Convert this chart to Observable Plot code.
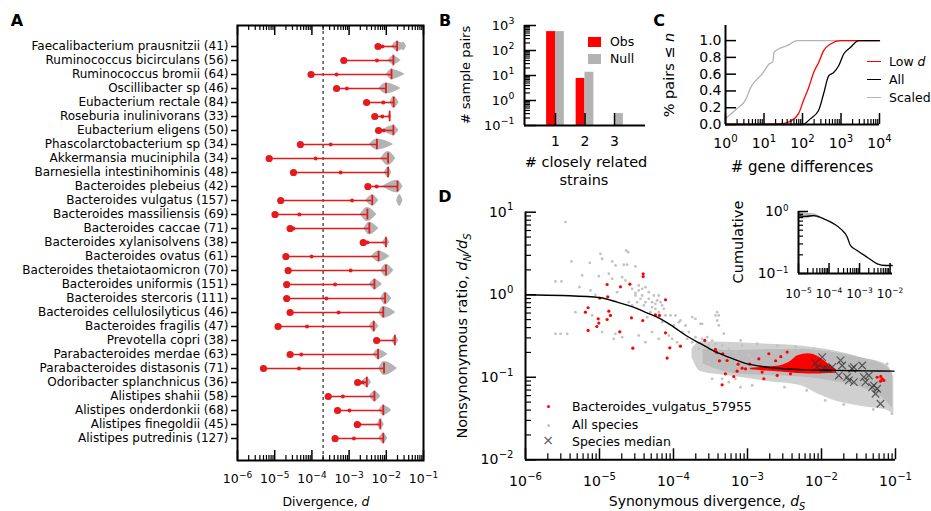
<!DOCTYPE html>
<html><head><meta charset="utf-8">
<script src="https://cdn.jsdelivr.net/npm/d3@7"></script>
<script src="https://cdn.jsdelivr.net/npm/@observablehq/plot@0.6"></script>
<style>
body{margin:0;background:#fff;}
#root{position:relative;width:931px;height:511px;font-family:"DejaVu Sans",sans-serif;color:#000;overflow:hidden;background:#fff}
.t{position:absolute;white-space:nowrap;font-size:12.5px;line-height:1.1}
.sw{position:absolute}
</style></head><body><div id="root"></div>
<script>
// ---------------- Panel A data ----------------
const species = ["Faecalibacterium prausnitzii (41)","Ruminococcus bicirculans (56)","Ruminococcus bromii (64)","Oscillibacter sp (46)","Eubacterium rectale (84)","Roseburia inulinivorans (33)","Eubacterium eligens (50)","Phascolarctobacterium sp (34)","Akkermansia muciniphila (34)","Barnesiella intestinihominis (48)","Bacteroides plebeius (42)","Bacteroides vulgatus (157)","Bacteroides massiliensis (69)","Bacteroides caccae (71)","Bacteroides xylanisolvens (38)","Bacteroides ovatus (61)","Bacteroides thetaiotaomicron (70)","Bacteroides uniformis (151)","Bacteroides stercoris (111)","Bacteroides cellulosilyticus (46)","Bacteroides fragilis (47)","Prevotella copri (38)","Parabacteroides merdae (63)","Parabacteroides distasonis (71)","Odoribacter splanchnicus (36)","Alistipes shahii (58)","Alistipes onderdonkii (68)","Alistipes finegoldii (45)","Alistipes putredinis (127)"];
const minDivergence = [6.0e-3,7.2e-4,9.5e-5,4.6e-4,2.95e-3,4.9e-3,6.2e-3,4.9e-5,7.1e-6,3.2e-5,3.2e-3,1.45e-5,1.02e-5,2.6e-5,2.4e-3,2.0e-5,2.3e-5,2.1e-5,2.1e-5,2.6e-5,1.23e-5,5.5e-3,2.6e-5,5.0e-6,1.7e-3,2.75e-4,4.9e-4,1.66e-3,4.2e-4];
const lowDivergence = [7.9e-3,5.6e-3,4.6e-4,8.7e-4,8.3e-3,7.8e-3,8.5e-3,3.2e-4,1.26e-4,5.9e-4,5.5e-3,1.2e-3,4.6e-5,3.2e-5,3.1e-3,9.8e-5,1.1e-3,4.2e-4,2.45e-4,5.2e-4,7.4e-5,6.0e-3,5.2e-5,4.5e-5,2.3e-3,6.8e-4,1.02e-3,1.9e-3,1.35e-3];
const typicalDivergence = [1.95e-2,1.55e-2,1.38e-2,9.8e-3,1.58e-2,1.23e-2,1.55e-2,5.6e-3,1.12e-2,1.12e-2,2.0e-2,4.2e-3,3.1e-3,3.5e-3,9.8e-3,6.2e-3,9.8e-3,4.8e-3,9.3e-3,8.3e-3,4.6e-3,1.7e-2,6.0e-3,8.7e-3,3.0e-3,4.8e-3,8.3e-3,6.9e-3,8.3e-3];
const violinLow = [1.4e-2,1.1e-2,1.0e-2,6.3e-3,1.26e-2,1.1e-2,7.9e-3,3.5e-3,7.1e-3,8.9e-3,7.9e-3,2.8e-3,2.0e-3,2.5e-3,7.9e-3,4.0e-3,7.1e-3,3.5e-3,7.1e-3,6.3e-3,3.5e-3,1.4e-2,4.5e-3,6.3e-3,2.2e-3,3.5e-3,6.3e-3,5.6e-3,6.3e-3];
const violinHigh = [3.5e-2,2.5e-2,3.2e-2,2.5e-2,2.2e-2,1.4e-2,2.2e-2,1.6e-2,1.8e-2,1.4e-2,2.8e-2,6.3e-3,5.6e-3,6.3e-3,1.26e-2,1.26e-2,1.6e-2,7.9e-3,1.4e-2,1.8e-2,6.3e-3,2.2e-2,1.1e-2,2.0e-2,4.0e-3,7.1e-3,1.4e-2,8.9e-3,1.1e-2];
const violinWidth = [0.35,0.3,0.35,0.4,0.42,0.2,0.35,0.4,0.5,0.38,0.45,0.4,0.5,0.45,0.3,0.4,0.45,0.35,0.45,0.42,0.35,0.3,0.35,0.5,0.35,0.35,0.35,0.3,0.35];
const extraViolins = [{row:0, lo:2.4e-2, peak:2.9e-2, hi:3.5e-2, w:0.3},{row:11, lo:1.9e-2, peak:2.3e-2, hi:2.8e-2, w:0.42}];
const dThreshold = 2.0e-4;
const aTicks = [1e-6,1e-5,1e-4,1e-3,1e-2,1e-1];

// ---------------- Panel B data ----------------
const strainCounts = [1,2,3];
const obsPairs = [570, 7.6, 0];
const nullPairs = [570, 13.5, 0.3];
const bTicks = [0.1,1,10,100,1000];

// ---------------- Panel C data ----------------
const geneDiffScaled = [[1,0.07],[2,0.19],[3.3,0.29],[4.5,0.44],[6,0.52],[8.9,0.60],[13.5,0.72],[17,0.75],[18.2,0.86],[24,0.90],[40,0.94],[72,1.0],[1e4,1.0]];
const geneDiffLowD = [[1,0],[10,0.004],[30,0.01],[49,0.04],[79,0.13],[107,0.29],[145,0.44],[195,0.62],[263,0.74],[355,0.88],[537,0.96],[977,1.0],[1e4,1.0]];
const geneDiffAll = [[1,0],[98,0],[162,0.07],[263,0.17],[355,0.37],[479,0.58],[646,0.62],[871,0.70],[1175,0.84],[1778,0.92],[2884,1.0],[1e4,1.0]];
const cTicksX = [1,10,100,1000,10000];
const cTicksY = [0,0.2,0.4,0.6,0.8,1.0];

// ---------------- Panel D data (log10 dS, log10 dN/dS) ----------------
const allSpeciesLog = [[-5.46,0.88],[-5.595,0.161],[-5.514,0.161],[-5.379,0.403],[-5.131,0.387],[-4.987,0.496],[-4.964,0.436],[-4.829,0.403],[-4.784,0.355],[-4.64,0.537],[-4.613,0.516],[-4.672,0.363],[-4.627,0.363],[-4.514,0.343],[-5.235,0.234],[-5.009,0.225],[-4.874,0.254],[-4.829,0.193],[-4.694,0.213],[-4.649,0.173],[-5.271,0.092],[-5.122,0.052],[-5.054,-0.001],[-4.762,0.031],[-4.559,0.072],[-4.514,0.023],[-4.469,0.112],[-4.424,-0.009],[-4.604,-0.09],[-4.559,-0.13],[-4.446,-0.049],[-4.401,-0.13],[-4.334,0.031],[-4.289,-0.09],[-4.199,-0.009],[-4.154,-0.13],[-4.244,-0.171],[-4.311,-0.211],[-4.356,-0.272],[-4.154,-0.332],[-4.041,-0.251],[-3.996,-0.373],[-4.063,-0.494],[-4.289,-0.453],[-4.379,-0.575],[-4.199,-0.534],[-4.469,-0.494],[-4.694,-0.514],[-4.784,-0.474],[-4.807,-0.534],[-4.964,-0.453],[-5.325,-0.211],[-5.1,-0.251],[-5.527,-0.474],[-5.437,-0.474],[-5.595,-0.474],[-3.928,-0.332],[-3.883,-0.453],[-3.816,-0.534],[-3.748,-0.575],[-3.703,-0.292],[-3.613,-0.352],[-3.41,-0.211],[-3.388,-0.251],[-3.658,-0.655],[-3.523,-0.615],[-3.478,-0.696],[-3.343,-0.615],[-3.253,-0.655],[-3.163,-0.696],[-3.072,-0.615],[-2.982,-0.736],[-3.523,-0.817],[-3.433,-0.857],[-3.253,-0.898],[-3.118,-0.777],[-3.027,-0.817],[-2.937,-0.777],[-3.478,-1.019],[-3.343,-1.019],[-3.253,-1.059],[-3.095,-1.12],[-3.163,-1.019],[-2.937,-1.1],[-4.469,0.052],[-4.424,0.072],[-4.379,0.092],[-4.334,-0.049],[-4.266,-0.009],[-4.221,-0.07],[-4.176,-0.09],[-4.131,-0.171],[-4.514,-0.009],[-4.491,-0.09],[-4.244,-0.11],[-4.199,-0.211],[-4.109,-0.251],[-4.289,-0.15],[-4.379,-0.09],[-3.973,-0.251],[-3.906,-0.312],[-3.838,-0.373],[-3.793,-0.453],[-4.018,-0.534],[-3.951,-0.575],[-3.703,-0.514],[-3.613,-0.534],[-3.545,-0.514],[-3.478,-0.555],[-3.433,-0.595],[-3.432,-0.251],[-3.41,-0.312],[-3.387,-0.372],[-1.112,-0.837],[-3.747,-0.271],[-3.635,-0.352],[-3.32,-0.473],[-3.094,-0.554],[-2.869,-0.594],[-2.6,-0.62],[-2.35,-0.63],[-2.1,-0.66],[-1.9,-0.69],[-1.7,-0.73],[-1.35,-0.8],[-2.5,-1.12],[-2.2,-1.16],[-1.95,-1.28],[-1.7,-1.33],[-1.3,-1.39],[-1.05,-1.44]];
// envelope of the all-species cloud: [log10 dS, top, bottom] (outer, lighter) and dense core
const allSpeciesBandLog = [[-3.75,-0.66,-0.76],[-3.635,-0.57,-0.93],[-3.185,-0.58,-0.99],[-2.734,-0.6,-1.05],[-2.284,-0.62,-1.10],[-2.059,-0.645,-1.2],[-1.833,-0.68,-1.28],[-1.473,-0.76,-1.35],[-1.113,-0.85,-1.40],[-1.023,-1.0,-1.45]];
const allSpeciesCoreLog = [[-3.6,-0.66,-0.84],[-3.185,-0.675,-0.955],[-2.734,-0.665,-0.98],[-2.284,-0.66,-0.998],[-1.833,-0.70,-1.05],[-1.473,-0.765,-1.12],[-1.113,-0.88,-1.30],[-1.04,-0.96,-1.38]];
const vulgatusLog = [[-4.41,0.254],[-4.41,0.221],[-4.897,0.124],[-4.717,0.096],[-4.59,0.128],[-4.996,-0.041],[-4.888,-0.025],[-5.154,-0.158],[-5.19,-0.211],[-4.874,-0.199],[-4.852,-0.251],[-4.897,-0.30],[-5.018,-0.292],[-5.009,-0.344],[-5.036,-0.385],[-5.154,-0.433],[-4.726,-0.449],[-4.568,-0.28],[-4.415,-0.312],[-4.55,-0.647],[-4.108,-0.061],[-4.19,-0.251],[-4.244,-0.243],[-4.108,-0.461],[-4.05,-0.643],[-4.086,-0.768],[-3.906,-0.623],[-3.577,-0.554],[-3.433,-0.663],[-3.419,-0.696],[-3.379,-0.801],[-3.275,-0.797],[-3.334,-0.716],[-3.298,-0.958],[-3.343,-1.092],[-3.185,-0.991],[-3.127,-0.841],[-3.14,-0.926],[-3.073,-0.89],[-3.027,-0.898],[-2.969,-0.841],[-2.802,-0.937],[-2.419,-0.958],[-2.847,-0.776],[-2.712,-0.715],[-2.464,-0.695],[-2.779,-1.018],[-2.599,-0.978],[-2.62,-0.8],[-2.55,-0.75],[-1.248,-1.0],[-1.18,-1.018],[-1.203,-1.047],[-1.158,-1.038],[-1.2,-0.99]];
// dense core of the B. vulgatus points: [log10 dS, top, bottom]
const vulgatusBandLog = [[-2.96,-0.89,-0.91],[-2.734,-0.875,-0.925],[-2.554,-0.86,-0.935],[-2.42,-0.81,-0.945],[-2.32,-0.74,-0.955],[-2.18,-0.715,-0.96],[-2.04,-0.75,-0.96],[-1.92,-0.83,-0.955],[-1.80,-0.91,-0.95]];
const speciesMedianLog = [[-2.081,-0.828],[-1.991,-0.756],[-2.059,-0.877],[-1.968,-0.897],[-1.923,-0.897],[-1.856,-0.877],[-1.766,-0.978],[-1.743,-0.796],[-1.721,-0.857],[-1.653,-0.998],[-1.586,-0.897],[-1.563,-0.877],[-1.63,-1.038],[-1.563,-1.059],[-1.428,-0.998],[-1.405,-1.059],[-1.45,-0.857],[-1.315,-1.119],[-1.293,-1.099],[-1.27,-1.2],[-1.203,-1.321],[-1.36,-0.978],[-1.248,-1.139]];
const fitCurveLog = [[-6,0],[-5.5,-0.01],[-4.99,-0.036],[-4.76,-0.09],[-4.54,-0.15],[-4.36,-0.22],[-4.18,-0.29],[-4.0,-0.39],[-3.82,-0.50],[-3.64,-0.59],[-3.46,-0.68],[-3.3,-0.74],[-3.05,-0.825],[-2.8,-0.87],[-2.51,-0.897],[-2.2,-0.91],[-1.83,-0.917],[-1.4,-0.922],[-1.02,-0.926]];
const dTicksX = [1e-6,1e-5,1e-4,1e-3,1e-2,1e-1];
const dTicksY = [0.01,0.1,1,10];
// inset: cumulative fraction
const cumulativeLog = [[-4.95,-0.07],[-4.77,-0.08],[-4.5,-0.065],[-4.17,-0.118],[-3.84,-0.199],[-3.62,-0.28],[-3.4,-0.414],[-3.3,-0.548],[-3.08,-0.629],[-2.75,-0.737],[-2.42,-0.844],[-2.15,-0.871],[-1.93,-0.871]];
const cumulativeBandLog = [[-5,-0.01,-0.12],[-4.77,-0.03,-0.12],[-4.5,-0.035,-0.09],[-4.3,-0.08,-0.12]];
const insetTicksX = [1e-5,1e-4,1e-3,1e-2];
const insetTicksY = [0.1,1];

// ---------------- helpers ----------------
const RED_A = "#e41a1c", RED = "#ff0000", GRAY = "#b3b3b3";
const SUP = {"-":"⁻","0":"⁰","1":"¹","2":"²","3":"³","4":"⁴","5":"⁵","6":"⁶","7":"⁷","8":"⁸","9":"⁹"};
const SUPREV = Object.fromEntries(Object.entries(SUP).map(([a, b]) => [b, a]));
const pow10 = v => "10" + String(Math.round(Math.log10(v))).split("").map(c => SUP[c]).join("");
const minorsOf = (lo, hi) => { const o = []; for (let e = lo; e < hi; e++) for (let m = 2; m < 10; m++) o.push(m * 10 ** e); return o; };
const P = a => a.map(([x, y]) => [10 ** x, 10 ** y]);
const P3 = a => a.map(([x, u, v]) => [10 ** x, 10 ** u, 10 ** v]);
const tB = (v, len, fh, sw = 1.2) => Plot.tickX(v, {x: d => d, insetTop: fh - len, stroke: "#000", strokeWidth: sw});
const tT = (v, len, fh, sw = 1.2) => Plot.tickX(v, {x: d => d, insetBottom: fh - len, stroke: "#000", strokeWidth: sw});
const tL = (v, len, fw, sw = 1.2) => Plot.tickY(v, {y: d => d, insetRight: fw - len, stroke: "#000", strokeWidth: sw});
const baseStyle = {fontFamily: "DejaVu Sans", fontSize: "13px", overflow: "visible", background: "transparent"};
const NS = "http://www.w3.org/2000/svg";
function fixSup(svg, supSize = "0.72em") {
  svg.querySelectorAll("text").forEach(t => {
    const m = t.textContent.match(/^10([⁻⁰¹²³⁴⁵⁶⁷⁸⁹]+)$/);
    if (!m) return;
    const exp = m[1].split("").map(c => SUPREV[c]).join("").replace("-", "−");
    t.textContent = "";
    const a = document.createElementNS(NS, "tspan"); a.textContent = "10";
    const b = document.createElementNS(NS, "tspan"); b.textContent = exp;
    b.setAttribute("font-size", supSize); b.setAttribute("dy", "-0.62em"); b.setAttribute("dx", "0.03em");
    t.append(a, b);
  });
  return svg;
}

const root = document.getElementById("root");
function place(svg, left, top, supSize) { fixSup(svg, supSize); svg.style.position = "absolute"; svg.style.left = left + "px"; svg.style.top = top + "px"; root.appendChild(svg); }
function T(html, x, y, {anchor = "middle", rotate = 0, size = 12.5, weight = "normal", color = "#000"} = {}) {
  const d = document.createElement("div");
  d.className = "t"; d.innerHTML = html;
  d.style.left = x + "px"; d.style.top = y + "px"; d.style.fontSize = size + "px"; d.style.fontWeight = weight; d.style.color = color;
  const tx = anchor === "start" ? "0" : anchor === "end" ? "-100%" : "-50%";
  d.style.transform = `translate(${tx},-50%)` + (rotate ? ` rotate(${rotate}deg)` : "");
  root.appendChild(d);
}
function S(x, y, w, h, css) { const d = document.createElement("div"); d.className = "sw"; Object.assign(d.style, {left: x + "px", top: y + "px", width: w + "px", height: h + "px"}, css); root.appendChild(d); }
const SUBS = "style='font-size:0.7em'";

// ---------------- Panel A ----------------
const rows = species.map((s, i) => ({i, s, lo: minDivergence[i], mid: lowDivergence[i], tick: typicalDivergence[i]}));
const violinPts = [];
species.forEach((s, i) => {
  const w = violinWidth[i];
  violinPts.push({k: i, x: violinLow[i], y1: i, y2: i});
  violinPts.push({k: i, x: typicalDivergence[i], y1: i - w, y2: i + w});
  violinPts.push({k: i, x: violinHigh[i], y1: i, y2: i});
});
extraViolins.forEach((v, j) => {
  violinPts.push({k: "e" + j, x: v.lo, y1: v.row, y2: v.row});
  violinPts.push({k: "e" + j, x: v.peak, y1: v.row - v.w, y2: v.row + v.w});
  violinPts.push({k: "e" + j, x: v.hi, y1: v.row, y2: v.row});
});
{
  const fh = 435;
  const svg = Plot.plot({
    width: 440, height: 511, marginLeft: 237, marginRight: 17, marginTop: 25, marginBottom: 51,
    style: baseStyle,
    x: {type: "log", domain: [1e-6, 1e-1], label: null},
    y: {domain: [-1.5, 29.571], range: [25, 460], label: null},
    marks: [
      Plot.areaY(violinPts, {x: "x", y1: "y1", y2: "y2", z: "k", fill: GRAY, curve: "monotone-x"}),
      Plot.ruleX([dThreshold], {stroke: "#000", strokeWidth: 1, strokeDasharray: "3,3"}),
      Plot.ruleY(rows, {y: "i", x1: "lo", x2: "tick", stroke: RED_A, strokeWidth: 1.6}),
      Plot.ruleX(rows, {x: "tick", y1: d => d.i - 0.38, y2: d => d.i + 0.38, stroke: RED_A, strokeWidth: 1.8}),
      Plot.dot(rows, {x: "mid", y: "i", r: 2, fill: RED_A}),
      Plot.dot(rows, {x: "lo", y: "i", r: 3.6, fill: RED_A}),
      Plot.frame({stroke: "#000", strokeWidth: 2}),
      tB(aTicks, 10, fh, 1.5), tB(minorsOf(-6, -1), 5, fh), tT(aTicks, 10, fh, 1.5), tT(minorsOf(-6, -1), 5, fh),
      Plot.axisX({ticks: aTicks, tickFormat: pow10, tickSize: 0, tickPadding: 14, anchor: "bottom", fontSize: 12.5}),
      Plot.axisY({ticks: d3.range(species.length), tickFormat: i => species[i], tickSize: 6, tickPadding: 3, strokeWidth: 1.5, fontSize: 12, anchor: "left"})
    ]
  });
  place(svg, 0, 0);
}
T("A", 17, 21, {size: 16, weight: "bold"});
T("Divergence, <i>d</i>", 326, 502);

// ---------------- Panel B ----------------
{
  const bars = strainCounts.flatMap((c, i) => [
    {x1: c - 0.3, x2: c, v: obsPairs[i], f: RED},
    {x1: c, x2: c + 0.3, v: nullPairs[i], f: GRAY}
  ]).filter(d => d.v > 0);
  const fh = 100, fw = 121;
  const svg = Plot.plot({
    width: 220, height: 200, marginLeft: 84, marginRight: 15, marginTop: 25, marginBottom: 75,
    style: baseStyle,
    x: {domain: [-0.05, 4.05], label: null},
    y: {type: "log", domain: [0.1, 1000], label: null},
    marks: [
      Plot.rect(bars, {x1: "x1", x2: "x2", y1: 0.1, y2: "v", fill: "f"}),
      tB(strainCounts, 12, fh, 1.5),
      tL(bTicks, 12, fw, 1.5), tL(minorsOf(-1, 3), 6, fw),
      Plot.ruleX([-0.05], {stroke: "#000", strokeWidth: 2}),
      Plot.ruleY([0.1], {stroke: "#000", strokeWidth: 2}),
      Plot.axisX({ticks: strainCounts, tickFormat: d => String(d), tickSize: 0, tickPadding: 11, anchor: "bottom", fontSize: 14}),
      Plot.axisY({ticks: bTicks, tickFormat: pow10, tickSize: 0, tickPadding: 10, anchor: "left"})
    ]
  });
  place(svg, 440, 0);
}
T("B", 445, 21, {size: 16, weight: "bold"});
T("# sample pairs", 466, 75, {rotate: -90, size: 13});
T("# closely related", 586, 163, {size: 14.5});
T("strains", 584, 181, {size: 14.5});
S(588, 37, 13, 10, {background: RED});
S(588, 54, 13, 10, {background: GRAY});
T("Obs", 610, 42, {anchor: "start"});
T("Null", 610, 59, {anchor: "start"});

// ---------------- Panel C ----------------
{
  const fh = 99, fw = 154;
  const lines = [[geneDiffScaled, GRAY], [geneDiffLowD, RED], [geneDiffAll, "#000"]];
  const svg = Plot.plot({
    width: 240, height: 200, marginLeft: 75, marginRight: 11, marginTop: 25, marginBottom: 76,
    style: baseStyle,
    x: {type: "log", domain: [1, 1e4], label: null},
    y: {domain: [0, 1.18], label: null},
    marks: [
      ...lines.map(([d, c]) => Plot.line(d, {x: d => d[0], y: d => d[1], stroke: c, strokeWidth: 1.3, curve: "monotone-x"})),
      tB(cTicksX, 11, fh, 1.5), tB(minorsOf(0, 4), 5, fh),
      tL(cTicksY, 11, fw, 1.5),
      Plot.ruleX([1], {stroke: "#000", strokeWidth: 2}),
      Plot.ruleY([0], {stroke: "#000", strokeWidth: 2}),
      Plot.axisX({ticks: cTicksX, tickFormat: pow10, tickSize: 0, tickPadding: 14, anchor: "bottom", fontSize: 14}),
      Plot.axisY({ticks: cTicksY, tickFormat: d3.format(".1f"), tickSize: 0, tickPadding: 4, anchor: "left", fontSize: 14})
    ]
  });
  place(svg, 650, 0);
}
T("C", 659, 21, {size: 16, weight: "bold"});
T("% pairs ≤ <i>n</i>", 670, 75, {rotate: -90, size: 14.5});
T("# gene differences", 802, 167, {size: 15});
S(867, 61, 14, 0, {borderTop: "1.5px solid " + RED});
S(867, 79, 14, 0, {borderTop: "1.5px solid #000"});
S(867, 97, 14, 0, {borderTop: "1.5px solid " + GRAY});
T("Low <i>d</i>", 889, 62, {anchor: "start"});
T("All", 889, 80, {anchor: "start"});
T("Scaled", 889, 98, {anchor: "start"});

// ---------------- Panel D ----------------
{
  const fh = 247.6, fw = 370;
  const svg = Plot.plot({
    width: 491, height: 321, marginLeft: 85, marginRight: 36, marginTop: 21.7, marginBottom: 51.7,
    style: baseStyle,
    x: {type: "log", domain: [1e-6, 1e-1], label: null},
    y: {type: "log", domain: [0.01, 10], label: null},
    marks: [
      Plot.areaY(P3(allSpeciesBandLog), {x: d => d[0], y1: d => d[1], y2: d => d[2], fill: "#d0d0d0", curve: "monotone-x"}),
      Plot.areaY(P3(allSpeciesCoreLog), {x: d => d[0], y1: d => d[1], y2: d => d[2], fill: "#bcbcbc", curve: "monotone-x"}),
      Plot.dot(P(allSpeciesLog), {x: d => d[0], y: d => d[1], r: 1.4, fill: "#c2c2c2"}),
      Plot.areaY(P3(vulgatusBandLog), {x: d => d[0], y1: d => d[1], y2: d => d[2], fill: RED, curve: "monotone-x"}),
      Plot.dot(P(vulgatusLog), {x: d => d[0], y: d => d[1], r: 1.6, fill: RED}),
      Plot.dot(P(speciesMedianLog), {x: d => d[0], y: d => d[1], r: 3.5, symbol: "times", stroke: "#333", strokeWidth: 1.2, strokeOpacity: 0.75}),
      Plot.line(P(fitCurveLog), {x: d => d[0], y: d => d[1], stroke: "#000", strokeWidth: 1.4, curve: "monotone-x"}),
      tB(dTicksX, 11, fh, 1.5), tB(minorsOf(-6, -1), 6, fh),
      tL(dTicksY, 11, fw, 1.5), tL(minorsOf(-2, 1), 6, fw),
      Plot.ruleX([1e-6], {stroke: "#000", strokeWidth: 2}),
      Plot.ruleY([0.01], {stroke: "#000", strokeWidth: 2}),
      Plot.axisX({ticks: dTicksX, tickFormat: pow10, tickSize: 0, tickPadding: 16, anchor: "bottom", fontSize: 14}),
      Plot.axisY({ticks: dTicksY, tickFormat: pow10, tickSize: 0, tickPadding: 12, anchor: "left", fontSize: 14})
    ]
  });
  place(svg, 440, 190);
}
T("D", 445, 197, {size: 16, weight: "bold"});
T(`Synonymous divergence, <i>d<sub ${SUBS}>S</sub></i>`, 707, 503, {size: 14});
T(`Nonsynonymous ratio, <i>d<sub ${SUBS}>N</sub>/d<sub ${SUBS}>S</sub></i>`, 464, 336, {rotate: -90, size: 14.5});
S(546.5, 404.5, 3.5, 3.5, {background: RED, borderRadius: "50%"});
S(546.5, 423.5, 3, 3, {background: "#c4c4c4", borderRadius: "50%"});
T("×", 548, 441, {size: 14, color: "#555"});
T("Bacteroides_vulgatus_57955", 572, 407, {anchor: "start"});
T("All species", 572, 425, {anchor: "start"});
T("Species median", 572, 442, {anchor: "start"});

// ---------------- Inset ----------------
{
  const fh = 62, fw = 94;
  const svg = Plot.plot({
    width: 191, height: 120, marginLeft: 58, marginRight: 39, marginTop: 21, marginBottom: 37,
    style: baseStyle,
    x: {type: "log", domain: [1e-5, 1.2e-2], label: null},
    y: {type: "log", domain: [0.1, 1], label: null},
    marks: [
      Plot.areaY(P3(cumulativeBandLog), {x: d => d[0], y1: d => d[1], y2: d => d[2], fill: "#bbbbbb", curve: "monotone-x"}),
      Plot.line(P(cumulativeLog), {x: d => d[0], y: d => d[1], stroke: "#000", strokeWidth: 1.3, curve: "monotone-x"}),
      tB(insetTicksX, 10, fh, 1.5), tB(minorsOf(-5, -2), 5, fh),
      tL(insetTicksY, 10, fw, 1.5), tL(minorsOf(-1, 0), 5, fw),
      Plot.ruleX([1e-5], {stroke: "#000", strokeWidth: 2}),
      Plot.ruleY([0.1], {stroke: "#000", strokeWidth: 2}),
      Plot.axisX({ticks: insetTicksX, tickFormat: pow10, tickSize: 0, tickPadding: 16, anchor: "bottom", fontSize: 12}),
      Plot.axisY({ticks: insetTicksY, tickFormat: pow10, tickSize: 0, tickPadding: 10, anchor: "left", fontSize: 14})
    ]
  });
  place(svg, 740, 190, "0.62em");
}
T("Cumulative", 739, 242, {rotate: -90, size: 14.5});
</script></body></html>
